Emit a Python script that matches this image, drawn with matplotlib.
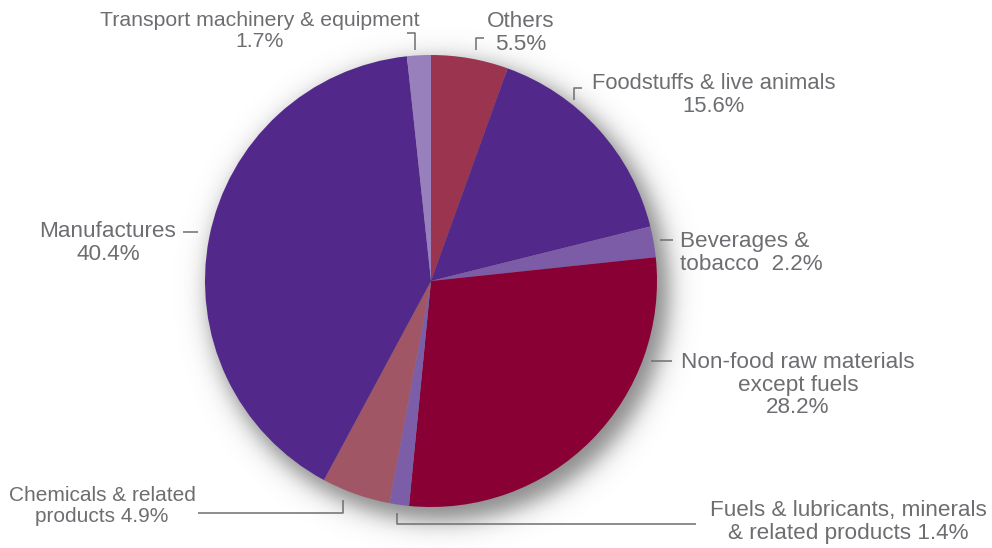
import numpy as np
import matplotlib
matplotlib.use("Agg")
import matplotlib.pyplot as plt

plt.rcParams['font.family'] = ['Liberation Sans', 'DejaVu Sans']

# share of exports by commodity group, clockwise from the top
categories = ['Others', 'Foodstuffs & live animals', 'Beverages & tobacco',
              'Non-food raw materials except fuels',
              'Fuels & lubricants, minerals & related products',
              'Chemicals & related products', 'Manufactures',
              'Transport machinery & equipment']
shares = [5.5, 15.6, 2.2, 28.2, 1.4, 4.9, 40.4, 1.7]
colors = ['#9b344f', '#52288a', '#7c5ca6', '#880034',
          '#7b5ea7', '#a15666', '#52288a', '#9880bd']

W, H = 992, 548
cx, cy, R = 431, 281, 226
grey = '#6d6e71'

fig = plt.figure(figsize=(W / 100, H / 100), dpi=100)
ax = fig.add_axes([0, 0, 1, 1])


def Y(y):
    # convert a top-down pixel row into axis coordinates
    return H - y


# soft drop shadow under the pie, pushed down and to the right
xx, yy = np.meshgrid(np.arange(W) + 0.5, np.arange(H) + 0.5)
d = np.hypot(xx - (cx + 8), yy - (Y(cy) - 10))
alpha = 0.72 / (1 + np.exp((d - (R + 4)) / 7.0))
shadow = np.zeros((H, W, 4))
shadow[..., :3] = 0.36
shadow[..., 3] = alpha
ax.imshow(shadow, extent=(0, W, 0, H), origin='lower', zorder=0,
          interpolation='bilinear')

ax.pie(shares, colors=colors, startangle=90, counterclock=False,
       center=(cx, Y(cy)), radius=R, wedgeprops=dict(linewidth=0))

ax.set_xlim(0, W)
ax.set_ylim(0, H)
ax.set_aspect('equal')
ax.axis('off')

txt = dict(color=grey, fontsize=16.2, va='center', linespacing=1.1)


def label(x, y, s, ha='center', size=16.2):
    ax.text(x, Y(y), s, ha=ha, **{**txt, 'fontsize': size})


label(260, 31, 'Transport machinery & equipment\n1.7%', size=15.3)
label(521, 33, 'Others\n5.5%')
label(714, 95, 'Foodstuffs & live animals\n15.6%', size=15.8)
label(680, 253, 'Beverages &\ntobacco  2.2%', ha='left')
label(798, 385, 'Non-food raw materials\nexcept fuels\n28.2%')
label(848, 522, 'Fuels & lubricants, minerals\n& related products 1.4%')
label(102, 506, 'Chemicals & related\nproducts 4.9%', size=15.0)
label(108, 243, 'Manufactures\n40.4%')

# leader lines
leaders = [
    ([407, 415, 415], [33, 33, 50]),
    ([476, 476, 484], [50, 38, 38]),
    ([574, 574, 582], [100, 88, 88]),
    ([660, 673], [240, 240]),
    ([651, 672], [361, 361]),
    ([397, 397, 696], [513, 524, 524]),
    ([343, 343, 198], [500, 513, 513]),
    ([183, 198], [232, 232]),
]
for lx, ly in leaders:
    ax.plot(lx, [Y(v) for v in ly], color=grey, lw=1.1, solid_capstyle='butt')

fig.savefig('out.png', dpi=100)
